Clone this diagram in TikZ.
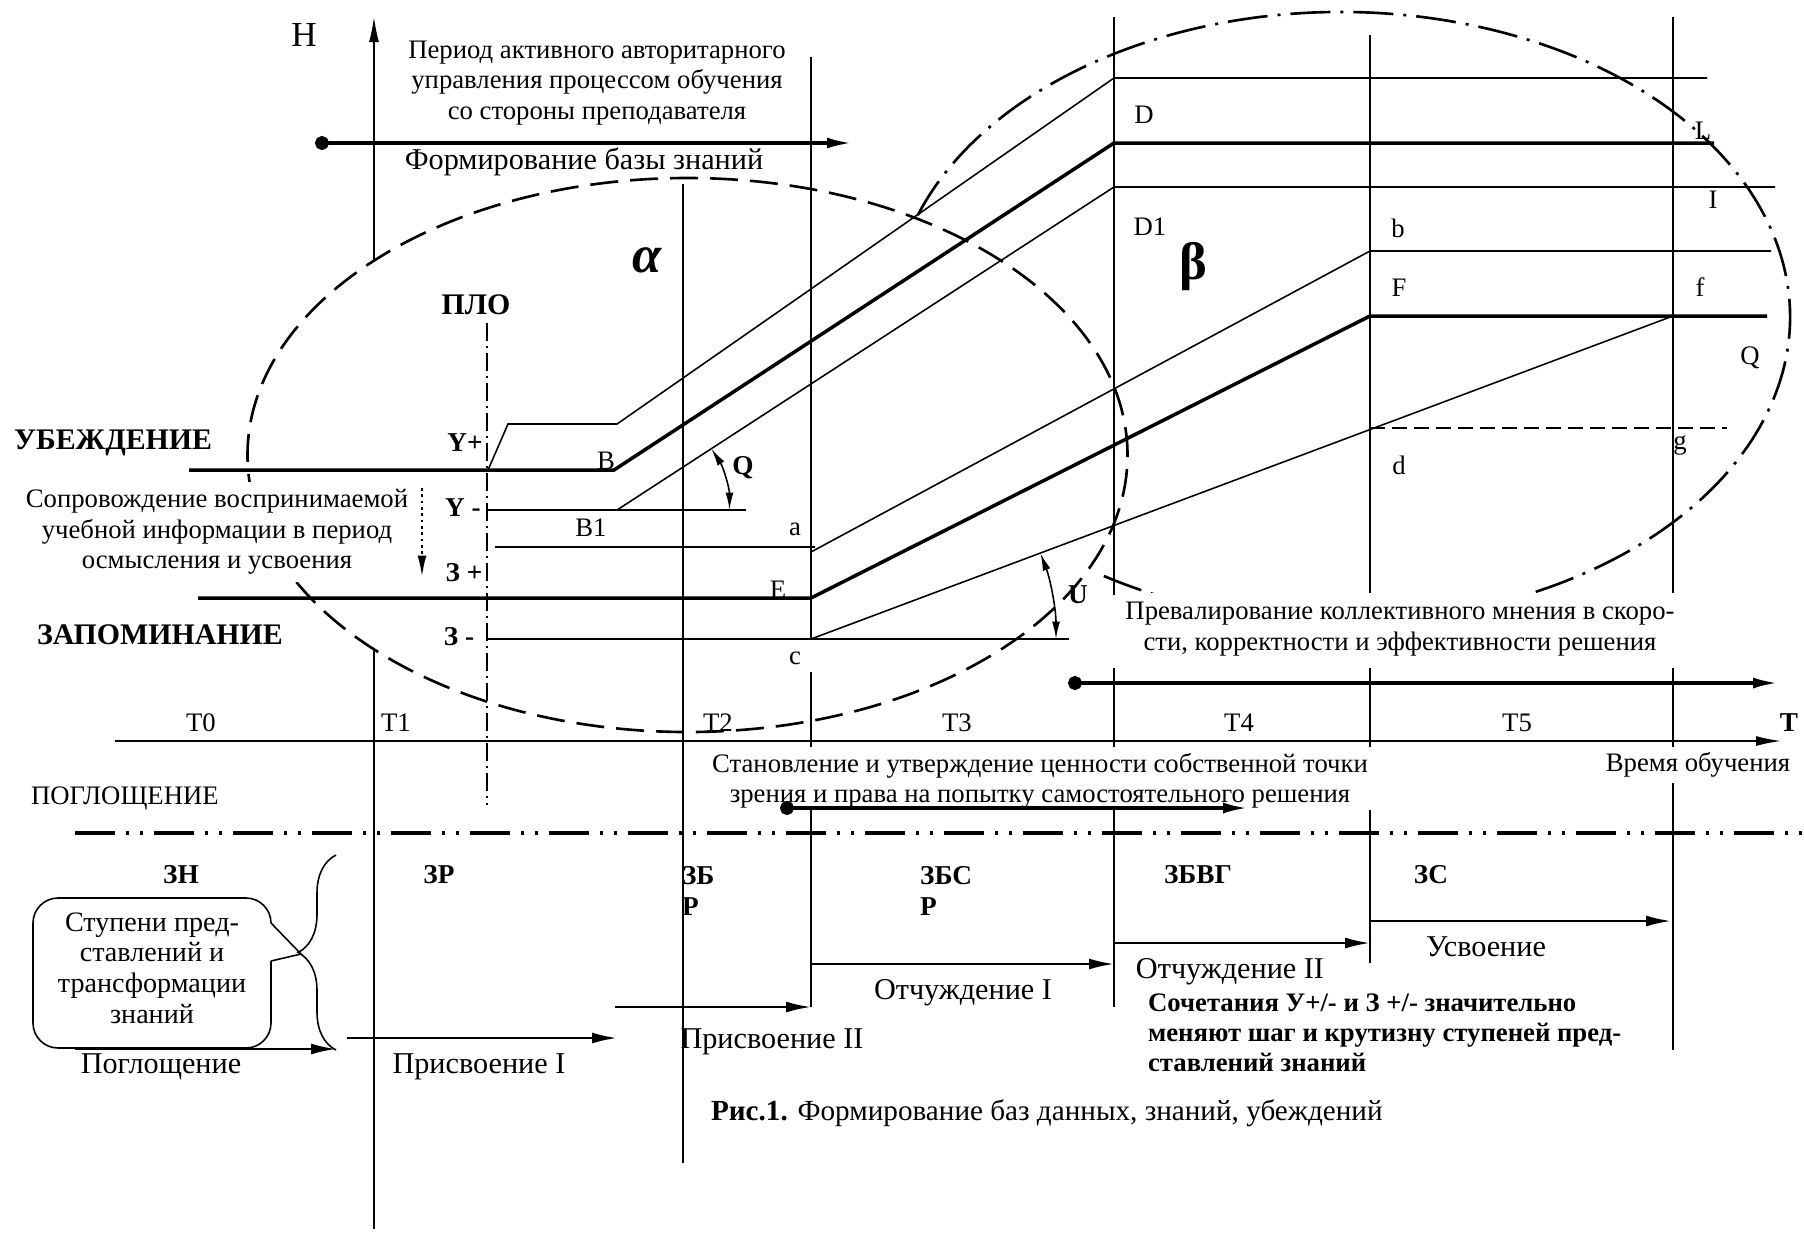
\documentclass[tikz,border=0pt]{standalone}
\usepackage{fontspec}
\setmainfont{Liberation Serif}
\usetikzlibrary{arrows.meta,decorations.pathreplacing}

\begin{document}
\begin{tikzpicture}[
    thinline/.style={line width=0.9pt},
    thickline/.style={line width=2pt},
    txt/.style={font=\fontsize{15.2}{17.4}\selectfont, inner sep=1pt},
    bigtxt/.style={font=\fontsize{17.2}{20}\selectfont, inner sep=1pt},
    btxt/.style={font=\bfseries\fontsize{15.5}{18}\selectfont, inner sep=1pt},
    bigbtxt/.style={font=\bfseries\fontsize{17}{20}\selectfont, inner sep=1pt},
    greek/.style={font=\bfseries\fontsize{30}{34}\selectfont, inner sep=0pt},
    zoneA/.style={line width=1.5pt, dash pattern=on 0.56cm off 0.24cm},
    zoneB/.style={line width=1.5pt, dash pattern=on 0.8cm off 0.2cm on 0.06cm off 0.2cm},
    plo/.style={thinline, dash pattern=on 0.36cm off 0.1cm on 0.04cm off 0.1cm},
    divider/.style={line width=2.4pt, dash pattern=on 0.8cm off 0.22cm on 0.06cm off 0.22cm on 0.06cm off 0.22cm},
    stagearrow/.style={line width=1.3pt, -{Latex[length=5mm,width=2.2mm]}},
    leadarrow/.style={line width=2pt, {Circle[length=2.8mm]}-{Latex[length=5mm,width=2.2mm]}},
    anglemark/.style={thinline, {Latex[length=3.5mm,width=1.6mm]}-{Latex[length=3.5mm,width=1.6mm]}},
    >={Latex[length=5mm,width=2mm]}
]
\useasboundingbox (0,0) rectangle (36.08,-24.64);

% --- zones alpha / beta ---
\draw[zoneA] (13.75,-9.10) ellipse[x radius=8.80, y radius=5.54];
\draw[zoneB] (18.355,-4.304) arc[start angle=160.5, end angle=-122.7, x radius=8.98, y radius=6.10];

% --- axes ---
\draw[thinline,->] (7.48,-5.21) -- (7.48,-0.34);
\draw[thinline] (7.48,-12.99) -- (7.48,-24.58);
\draw[thinline,->] (2.30,-14.82) -- (35.62,-14.82);
\node[txt, font=\fontsize{20}{22}\selectfont] (hlabel) at (6.08,-0.70) {H};
\node[btxt] (tlabel) at (35.78,-14.46) {T};
\foreach \x/\t in {4.02/T0, 7.92/T1, 14.36/T2, 19.14/T3, 24.78/T4, 30.34/T5}
    \node[txt] (\t) at (\x,-14.46) {\t};

% --- vertical grid ---
\draw[plo] (9.74,-6.46) -- (9.74,-16.10);
\draw[thinline] (13.66,-3.68) -- (13.66,-23.26);
\draw[thinline] (16.22,-1.14) -- (16.22,-12.80) (16.22,-13.44) -- (16.22,-14.94)
    (16.22,-16.16) -- (16.22,-20.14);
\foreach \x/\top/\low in {22.28/-0.34/-20.14, 27.40/-0.70/-19.26}
    \draw[thinline] (\x,\top) -- (\x,-11.90) (\x,-13.36) -- (\x,-14.94) (\x,-16.20) -- (\x,\low);
\draw[thinline] (33.46,-0.34) -- (33.46,-11.90) (33.46,-13.36) -- (33.46,-14.94)
    (33.46,-15.66) -- (33.46,-21.00);

% --- knowledge levels ---
\coordinate (B) at (12.28,-9.40);
\coordinate (B1) at (12.34,-10.20);
\coordinate (D) at (22.28,-2.86);
\coordinate (D1) at (22.28,-3.74);
\coordinate (E) at (16.22,-11.96);
\coordinate (F) at (27.40,-6.32);
\coordinate (a) at (16.22,-11.04);
\coordinate (b) at (27.40,-5.02);
\coordinate (c) at (16.22,-12.78);
\coordinate (f) at (33.46,-6.32);

\draw[thickline] (3.78,-9.40) -- (B) -- (D) -- (34.28,-2.86);
\draw[thinline] (9.76,-9.40) -- (10.16,-8.48) -- (12.34,-8.48) -- (22.28,-1.56) -- (34.14,-1.56);
\draw[thinline] (9.76,-10.20) -- (14.92,-10.20);
\draw[thinline] (B1) -- (D1) -- (35.50,-3.74);
\draw[thickline] (3.96,-11.96) -- (E) -- (F) -- (35.34,-6.32);
\draw[thinline] (9.90,-10.94) -- (16.30,-10.94);
\draw[thinline] (a) -- (b) -- (35.42,-5.02);
\draw[thinline] (9.74,-12.78) -- (21.38,-12.78);
\draw[thinline] (c) -- (f);
\draw[thinline, dash pattern=on 0.3cm off 0.14cm] (27.40,-8.56) -- (34.54,-8.56);
\draw[anglemark] ([shift={(2.25,0)}]B1) arc[start angle=0, end angle=33, radius=2.25];
\draw[anglemark] ([shift={(4.9,0)}]c) arc[start angle=0, end angle=20.5, radius=4.9];
\draw[line width=1.6pt, dotted, -{Latex[length=4.5mm,width=1.8mm]}] (8.44,-9.76) -- (8.44,-11.56);

% --- labels ---
\node[txt, align=center] (period) at (11.94,-1.66)
    {Период активного авторитарного\\управления процессом обучения\\со стороны преподавателя};
\node[bigtxt] (kbase) at (11.68,-3.24) {Формирование базы знаний};
\node[greek, font=\bfseries\itshape\fontsize{30}{34}\selectfont] (alpha) at (12.94,-5.20) {α};
\node[greek] (beta) at (23.86,-5.34) {β};
\node[bigbtxt] (plo) at (9.52,-6.10) {ПЛО};
\node[bigbtxt, anchor=west] (conv) at (0.24,-8.86) {УБЕЖДЕНИЕ};
\node[bigbtxt, anchor=west] (memo) at (0.70,-12.70) {ЗАПОМИНАНИЕ};
\node[btxt] (yp) at (9.30,-8.86) {Y+};
\node[btxt] (ym) at (9.26,-10.16) {Y -};
\node[btxt] (zp) at (9.28,-11.46) {З +};
\node[btxt] (zm) at (9.18,-12.74) {З -};
\node[txt, fill=white, inner sep=4pt, align=center] (accomp) at (4.34,-10.64)
    {Сопровождение воспринимаемой\\учебной информации в период\\осмысления и усвоения};

\node[txt] (lB) at (12.12,-9.22) {B};
\node[txt] (lB1) at (11.82,-10.56) {B1};
\node[txt] (la) at (15.90,-10.58) {a};
\node[txt] (lE) at (15.56,-11.80) {E};
\node[txt] (lc) at (15.90,-13.16) {c};
\node[btxt] (lQ) at (14.86,-9.36) {Q};
\node[btxt] (lU) at (21.56,-11.90) {U};
\node[txt] (lD) at (22.88,-2.30) {D};
\node[txt] (lD1) at (23.00,-4.54) {D1};
\node[txt] (lb) at (27.96,-4.56) {b};
\node[txt] (lF) at (27.98,-5.76) {F};
\node[txt] (lf) at (34.00,-5.74) {f};
\node[txt] (lL) at (34.06,-2.62) {L};
\node[txt] (lI) at (34.26,-4.00) {I};
\node[txt] (lQr) at (35.00,-7.16) {Q};
\node[txt] (ld) at (27.98,-9.30) {d};
\node[txt] (lg) at (33.60,-8.92) {g};

% --- periods ---
\draw[leadarrow] (6.30,-2.86) -- (17.04,-2.86);
\node[txt, fill=white, inner sep=5pt, align=center] (collective) at (28.00,-12.58)
    {Превалирование коллективного мнения в скоро-\\сти, корректности и эффективности решения};
\draw[leadarrow] (21.36,-13.66) -- (35.56,-13.66);
\node[txt, align=center] (own) at (20.80,-15.62)
    {Становление и утверждение ценности собственной точки\\зрения и права на попытку самостоятельного решения};
\draw[leadarrow] (15.60,-16.16) -- (24.96,-16.16);
\node[txt] (learntime) at (33.96,-15.30) {Время обучения};
\node[txt, anchor=west] (absorb) at (0.58,-15.96) {ПОГЛОЩЕНИЕ};
\draw[divider] (1.50,-16.66) -- (36.08,-16.66);

% --- stages ---
\node[btxt] (zn) at (3.62,-17.50) {ЗН};
\node[btxt] (zr) at (8.78,-17.50) {ЗР};
\node[btxt, anchor=west, align=left] (zbr) at (13.60,-17.82) {ЗБ\\Р};
\node[btxt, anchor=west, align=left] (zbsr) at (18.36,-17.82) {ЗБС\\Р};
\node[btxt] (zbvg) at (23.96,-17.50) {ЗБВГ};
\node[btxt] (zs) at (28.62,-17.50) {ЗС};

\draw[thinline, decorate, decoration={brace, amplitude=0.76cm}] (6.72,-21.00) -- (6.72,-17.10);
\draw[thinline, rounded corners=0.5cm] (5.42,-18.46) -- (5.42,-17.96) -- (0.66,-17.96)
    -- (0.66,-20.96) -- (5.42,-20.96) -- (5.42,-19.22);
\draw[thinline] (5.42,-18.46) -- (6.02,-19.08) -- (5.42,-19.22);
\node[txt, align=center, font=\fontsize{16}{17.4}\selectfont] (steps) at (3.04,-19.36)
    {Ступени пред-\\ставлений и\\трансформации\\знаний};

\draw[stagearrow] (1.50,-20.98) -- (6.72,-20.98);
\draw[stagearrow] (6.94,-20.76) -- (12.34,-20.76);
\draw[stagearrow] (12.30,-20.14) -- (16.22,-20.14);
\draw[stagearrow] (16.22,-19.28) -- (22.28,-19.28);
\draw[stagearrow] (22.28,-18.86) -- (27.40,-18.86);
\draw[stagearrow] (27.40,-18.42) -- (33.42,-18.42);
\node[bigtxt] (s1) at (3.22,-21.34) {Поглощение};
\node[bigtxt] (s2) at (9.58,-21.34) {Присвоение I};
\node[bigtxt] (s3) at (15.44,-20.84) {Присвоение II};
\node[bigtxt] (s4) at (19.26,-19.86) {Отчуждение I};
\node[bigtxt] (s5) at (24.60,-19.44) {Отчуждение II};
\node[bigtxt] (s6) at (29.72,-18.94) {Усвоение};

\node[btxt, anchor=west, align=left, font=\bfseries\fontsize{15.2}{17}\selectfont] (note) at (22.92,-20.66)
    {Сочетания У+/- и З +/- значительно\\меняют шаг и крутизну ступеней пред-\\ставлений знаний};
\node[txt, anchor=west, font=\fontsize{16.6}{20}\selectfont] (caption) at (14.18,-22.26)
    {\textbf{Рис.1.} Формирование баз данных, знаний, убеждений};
\end{tikzpicture}
\end{document}
